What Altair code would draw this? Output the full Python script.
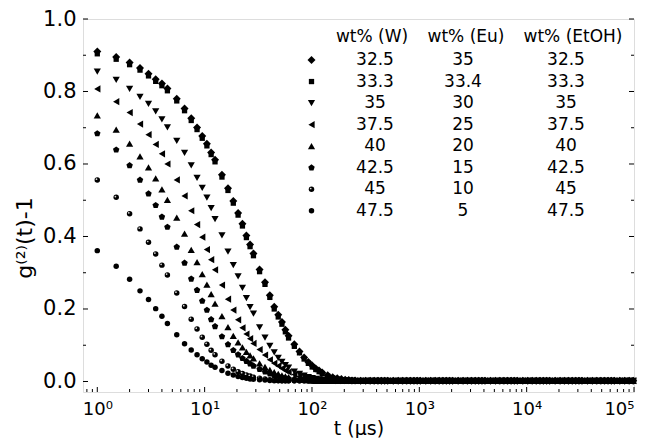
import altair as alt
import pandas as pd

# ---------------- data ----------------
lag_us = [1, 1.5, 2, 2.5, 3, 3.5, 4, 4.5,
          5.5, 6.5, 7.5, 8.5, 9.5, 10.5, 11.5, 12.5,
          14.5, 16.5, 18.5, 20.5, 22.5, 24.5, 26.5, 28.5,
          32.5, 36.5, 40.5, 44.5, 48.5, 52.5, 56.5, 60.5,
          68.5, 76.5, 84.5, 92.5, 100.5, 108.5, 116.5, 124.5,
          140, 156, 172, 188, 204, 220, 236, 252,
          284, 316, 348, 380, 412, 444, 476, 508,
          572, 636, 700, 764, 828, 892, 956, 1020,
          1148, 1276, 1404, 1532, 1660, 1788, 1916, 2044,
          2300, 2556, 2812, 3068, 3324, 3580, 3836, 4092,
          4604, 5116, 5628, 6140, 6652, 7164, 7676, 8188,
          9212, 10236, 11260, 12284, 13308, 14332, 15356, 16380,
          18428, 20476, 22524, 24572, 26620, 28668, 30716, 32764,
          36860, 40956, 45052, 49148, 53244, 57340, 61436, 65532,
          73724, 81916, 90108, 98300]

# common baseline reached by every sample after ~300 us
tail = [0.002, 0.002, 0.002, 0.002, 0.002, 0.002, 0.002, 0.002,
        0.002, 0.002, 0.002, 0.002, 0.002, 0.002, 0.002, 0.002,
        0.002, 0.002, 0.002, 0.002, 0.002, 0.002, 0.002, 0.002,
        0.002, 0.002, 0.002, 0.002, 0.002, 0.002, 0.002, 0.002,
        0.002, 0.002, 0.002, 0.002, 0.002, 0.002, 0.002, 0.002,
        0.002, 0.002, 0.002, 0.002, 0.002, 0.002, 0.002, 0.002,
        0.002, 0.002, 0.002, 0.002, 0.002, 0.002, 0.002, 0.002,
        0.002, 0.002, 0.002, 0.002, 0.002, 0.002, 0.002, 0.002,
        0.002, 0.002, 0.002, 0.002]

g_325 = [0.910, 0.895, 0.880, 0.865, 0.849, 0.834, 0.822, 0.808,
         0.780, 0.753, 0.726, 0.701, 0.677, 0.656, 0.632, 0.612,
         0.570, 0.533, 0.498, 0.465, 0.435, 0.403, 0.378, 0.353,
         0.309, 0.274, 0.238, 0.206, 0.184, 0.164, 0.143, 0.126,
         0.103, 0.083, 0.066, 0.054, 0.044, 0.036, 0.030, 0.025,
         0.017, 0.012, 0.009, 0.007, 0.005, 0.004, 0.003, 0.003] + tail
g_333 = [0.904, 0.889, 0.874, 0.859, 0.843, 0.828, 0.816, 0.802,
         0.774, 0.747, 0.720, 0.695, 0.671, 0.650, 0.626, 0.606,
         0.564, 0.527, 0.492, 0.459, 0.429, 0.397, 0.372, 0.347,
         0.303, 0.268, 0.232, 0.200, 0.178, 0.158, 0.137, 0.120,
         0.097, 0.079, 0.062, 0.050, 0.040, 0.033, 0.027, 0.022,
         0.015, 0.010, 0.007, 0.005, 0.004, 0.003, 0.003, 0.002] + tail
g_350 = [0.855, 0.832, 0.807, 0.785, 0.766, 0.745, 0.723, 0.701,
         0.664, 0.631, 0.596, 0.562, 0.534, 0.507, 0.478, 0.448,
         0.403, 0.358, 0.321, 0.290, 0.258, 0.230, 0.205, 0.187,
         0.149, 0.121, 0.098, 0.080, 0.065, 0.054, 0.045, 0.038,
         0.027, 0.021, 0.016, 0.012, 0.009, 0.007, 0.006, 0.005,
         0.004, 0.003, 0.002, 0.002, 0.002, 0.002, 0.002, 0.002] + tail
g_375 = [0.807, 0.772, 0.742, 0.710, 0.681, 0.654, 0.628, 0.600,
         0.556, 0.512, 0.471, 0.433, 0.398, 0.364, 0.336, 0.308,
         0.266, 0.227, 0.197, 0.170, 0.148, 0.131, 0.118, 0.105,
         0.088, 0.073, 0.060, 0.050, 0.043, 0.036, 0.030, 0.026,
         0.019, 0.014, 0.011, 0.008, 0.007, 0.006, 0.005, 0.004,
         0.003, 0.002, 0.002, 0.002, 0.002, 0.002, 0.002, 0.002] + tail
g_400 = [0.734, 0.695, 0.656, 0.621, 0.591, 0.560, 0.530, 0.501,
         0.452, 0.408, 0.363, 0.329, 0.296, 0.267, 0.241, 0.215,
         0.180, 0.150, 0.126, 0.108, 0.094, 0.082, 0.072, 0.064,
         0.050, 0.040, 0.032, 0.026, 0.021, 0.017, 0.014, 0.012,
         0.009, 0.007, 0.005, 0.004, 0.003, 0.002, 0.002, 0.002,
         0.002, 0.002, 0.002, 0.002, 0.002, 0.002, 0.002, 0.002] + tail
g_425 = [0.684, 0.639, 0.596, 0.556, 0.518, 0.486, 0.454, 0.426,
         0.371, 0.327, 0.283, 0.252, 0.222, 0.197, 0.171, 0.152,
         0.124, 0.102, 0.086, 0.074, 0.064, 0.056, 0.049, 0.043,
         0.034, 0.027, 0.021, 0.017, 0.014, 0.011, 0.009, 0.008,
         0.006, 0.005, 0.004, 0.003, 0.002, 0.002, 0.002, 0.002,
         0.002, 0.002, 0.002, 0.002, 0.002, 0.002, 0.002, 0.002] + tail
g_450 = [0.556, 0.508, 0.463, 0.421, 0.384, 0.352, 0.321, 0.294,
         0.244, 0.207, 0.172, 0.145, 0.122, 0.103, 0.086, 0.074,
         0.056, 0.043, 0.034, 0.027, 0.022, 0.018, 0.015, 0.012,
         0.009, 0.007, 0.005, 0.004, 0.003, 0.002, 0.002, 0.002,
         0.002, 0.002, 0.002, 0.002, 0.002, 0.002, 0.002, 0.002,
         0.002, 0.002, 0.002, 0.002, 0.002, 0.002, 0.002, 0.002] + tail
g_475 = [0.361, 0.318, 0.282, 0.250, 0.226, 0.201, 0.180, 0.160,
         0.129, 0.104, 0.087, 0.074, 0.063, 0.054, 0.045, 0.039,
         0.030, 0.023, 0.018, 0.014, 0.011, 0.009, 0.007, 0.006,
         0.005, 0.004, 0.003, 0.002, 0.002, 0.002, 0.002, 0.002,
         0.002, 0.002, 0.002, 0.002, 0.002, 0.002, 0.002, 0.002,
         0.002, 0.002, 0.002, 0.002, 0.002, 0.002, 0.002, 0.002] + tail

wt_w = ["32.5", "33.3", "35", "37.5", "40", "42.5", "45", "47.5"]
wt_eu = ["35", "33.4", "30", "25", "20", "15", "10", "5"]
wt_etoh = ["32.5", "33.3", "35", "37.5", "40", "42.5", "45", "47.5"]
series_values = [g_325, g_333, g_350, g_375, g_400, g_425, g_450, g_475]

x_ticks = [1, 10, 100, 1000, 10000, 100000]
y_ticks = [0.0, 0.2, 0.4, 0.6, 0.8, 1.0]
y_minor = [0.1, 0.3, 0.5, 0.7, 0.9]
x_minor = [0.8, 0.9] + [m * 10 ** k for k in range(0, 5) for m in range(2, 10)]

# ---------------- styling ----------------
W, H = 551, 373
FONT = "DejaVu Sans"
PENTAGON = "M0,-1L0.951,-0.309L0.588,0.809L-0.588,0.809L-0.951,-0.309Z"
shapes = ["diamond", "square", "triangle-down", "triangle-left",
          "triangle-up", PENTAGON, "circle", "circle"]
sizes = [64, 28, 52, 52, 52, 46, 30, 30]

xscale = alt.Scale(type="log", domain=[0.736, 100000], nice=False)
yscale = alt.Scale(domain=[-0.029, 1.0], nice=False, zero=False)

label_expr = ("'10' + ['\u2070','\u00b9','\u00b2','\u00b3','\u2074','\u2075']"
              "[round(log(datum.value)/LN10)]")

xaxis = alt.Axis(values=x_ticks, labelExpr=label_expr, title="t (\u00b5s)",
                 grid=False, ticks=False, domain=False,
                 labelFont=FONT, labelFontSize=18, labelColor="black",
                 labelPadding=8, titleFont=FONT, titleFontSize=19,
                 titleFontWeight="normal", titleColor="black", titlePadding=1)
yaxis = alt.Axis(values=y_ticks, format=".1f", title=None,
                 grid=False, ticks=False, domain=False,
                 labelFont=FONT, labelFontSize=21, labelColor="black",
                 labelPadding=7)

# ---------------- data layers ----------------
data_layers = []
for name, vals, shp, sz in zip(wt_w, series_values, shapes, sizes):
    d = pd.DataFrame({"t": lag_us, "g": vals})
    data_layers.append(
        alt.Chart(d).mark_point(filled=True, opacity=1, color="black",
                                strokeWidth=0, shape=shp, size=sz).encode(
            x=alt.X("t:Q", scale=xscale, axis=xaxis),
            y=alt.Y("g:Q", scale=yscale, axis=yaxis)))
    if name == "45":
        data_layers.append(
            alt.Chart(d).mark_circle(size=3, color="#d8d8d8", opacity=1,
                                     xOffset=-0.8, yOffset=-0.8).encode(
                x=alt.X("t:Q", scale=xscale, axis=xaxis),
                y=alt.Y("g:Q", scale=yscale, axis=yaxis)))

# ---------------- inward ticks ----------------
def yrule(vals, x0, x1):
    return alt.Chart(pd.DataFrame({"g": vals})).mark_rule(
        color="black", strokeWidth=1).encode(
        y=alt.Y("g:Q", scale=yscale, axis=yaxis),
        x=alt.value(x0), x2=alt.value(x1))

def xrule(vals, y0, y1):
    return alt.Chart(pd.DataFrame({"t": vals})).mark_rule(
        color="black", strokeWidth=1).encode(
        x=alt.X("t:Q", scale=xscale, axis=xaxis),
        y=alt.value(y0), y2=alt.value(y1))

ticks = [yrule(y_ticks, 0, 5), yrule(y_minor, 0, 3),
         yrule(y_ticks, W - 5, W), yrule(y_minor, W - 3, W),
         xrule(x_ticks, H, H - 5), xrule(x_minor, H, H - 3)]

# y-axis title (rotated text, sits level with the 0.4 label as in the original)
y_title = alt.Chart(pd.DataFrame({"s": ["g\u207d\u00b2\u207e(t)-1"]})).mark_text(
    font=FONT, fontSize=22, color="black", angle=270, align="center",
    baseline="middle").encode(x=alt.value(-58), y=alt.value(219), text="s:N")

# ---------------- legend table ----------------
row_y = [41.0 + 21.55 * i for i in range(len(wt_w))]
leg_layers = []
for i, (shp, sz) in enumerate(zip(shapes, sizes)):
    one = pd.DataFrame({"w": [wt_w[i]], "eu": [wt_eu[i]], "etoh": [wt_etoh[i]]})
    base = alt.Chart(one)
    leg_layers.append(base.mark_point(filled=True, opacity=1, color="black",
                                      strokeWidth=0, shape=shp, size=sz).encode(
        x=alt.value(228.5), y=alt.value(row_y[i])))
    if wt_w[i] == "45":
        leg_layers.append(base.mark_circle(size=3, color="#d8d8d8", opacity=1,
                                           xOffset=-0.8, yOffset=-0.8).encode(
            x=alt.value(228.5), y=alt.value(row_y[i])))
    for field, xpos in (("w", 292), ("eu", 380), ("etoh", 483)):
        leg_layers.append(base.mark_text(font=FONT, fontSize=17, color="black",
                                         align="center", baseline="middle").encode(
            x=alt.value(xpos), y=alt.value(row_y[i]), text=f"{field}:N"))

headers = ["wt% (W)", "wt% (Eu)", "wt% (EtOH)"]
header_x = [289, 383, 490]
for h, xpos in zip(headers, header_x):
    leg_layers.append(alt.Chart(pd.DataFrame({"h": [h]})).mark_text(
        font=FONT, fontSize=17, color="black", align="center",
        baseline="middle").encode(x=alt.value(xpos), y=alt.value(18),
                                  text="h:N"))

chart = alt.layer(*data_layers, *ticks, y_title, *leg_layers).properties(
    width=W, height=H,
    autosize=alt.AutoSizeParams(type="none"),
    padding={"left": 75, "top": 11, "right": 9, "bottom": 46},
).configure_view(stroke="black", strokeWidth=1.5).configure(background="white")

chart.save("out.html", embed_options={"renderer": "svg", "actions": False})
